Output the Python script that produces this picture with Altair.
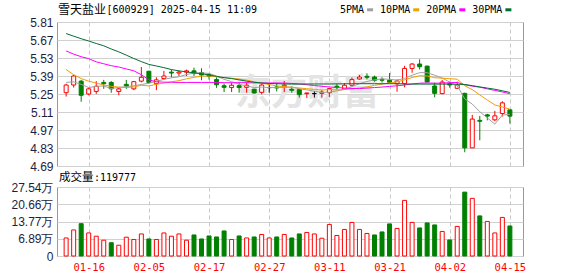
import json
import altair as alt
import pandas as pd

# ---------------- data ----------------
stock_name = "雪天盐业"
stock_info = "[600929] 2025-04-15 11:09"
vol_label_cn = "成交量"
vol_label_val = ":119777"
watermark = "东方财富"

date_ticks = [3, 11, 19, 27, 35, 43, 51, 59]
date_labels = ["01-16", "02-05", "02-17", "02-27", "03-11", "03-21", "04-02", "04-15"]

price_ticks = [4.69, 4.83, 4.97, 5.11, 5.25, 5.39, 5.53, 5.67, 5.81]
vol_ticks = [0, 6.885, 13.77, 20.655, 27.54]
vol_tick_labels = ["0", "6.89万", "13.77万", "20.66万", "27.54万"]

opens = [5.26, 5.32, 5.35, 5.25, 5.27, 5.34, 5.34, 5.27, 5.325, 5.29,
         5.35, 5.427, 5.33, 5.37, 5.42, 5.413, 5.42, 5.43, 5.416, 5.401,
         5.362, 5.314, 5.30, 5.315, 5.302, 5.287, 5.263, 5.30, 5.305, 5.305,
         5.287, 5.284, 5.253, 5.253, 5.255, 5.26, 5.31, 5.289, 5.318, 5.367,
         5.388, 5.382, 5.364, 5.357, 5.33, 5.33, 5.449, 5.483, 5.467, 5.312,
         5.253, 5.33, 5.294, 5.255, 4.831, 5.045, 5.088, 5.049, 5.098, 5.127]
highs = [5.33, 5.40, 5.36, 5.30, 5.35, 5.36, 5.35, 5.30, 5.36, 5.352,
         5.46, 5.43, 5.38, 5.43, 5.44, 5.43, 5.44, 5.455, 5.45, 5.413,
         5.38, 5.333, 5.339, 5.341, 5.341, 5.29, 5.333, 5.331, 5.336, 5.351,
         5.31, 5.292, 5.26, 5.273, 5.28, 5.297, 5.328, 5.336, 5.378, 5.398,
         5.411, 5.393, 5.38, 5.413, 5.364, 5.469, 5.49, 5.52, 5.47, 5.338,
         5.359, 5.346, 5.346, 5.26, 5.088, 5.08, 5.096, 5.119, 5.194, 5.13]
lows = [5.23, 5.30, 5.19, 5.24, 5.25, 5.29, 5.26, 5.24, 5.29, 5.28,
        5.34, 5.33, 5.28, 5.36, 5.38, 5.39, 5.39, 5.39, 5.357, 5.362,
        5.298, 5.265, 5.265, 5.26, 5.26, 5.253, 5.248, 5.26, 5.27, 5.265,
        5.26, 5.222, 5.219, 5.222, 5.222, 5.227, 5.284, 5.284, 5.31, 5.362,
        5.364, 5.346, 5.339, 5.333, 5.268, 5.302, 5.415, 5.441, 5.343, 5.224,
        5.248, 5.299, 5.289, 4.797, 4.83, 4.89, 5.045, 5.038, 5.075, 5.02]
closes = [5.32, 5.39, 5.24, 5.29, 5.31, 5.33, 5.29, 5.29, 5.312, 5.346,
          5.38, 5.34, 5.36, 5.39, 5.413, 5.421, 5.43, 5.41, 5.398, 5.388,
          5.322, 5.302, 5.318, 5.30, 5.318, 5.258, 5.32, 5.30, 5.297, 5.318,
          5.279, 5.245, 5.258, 5.253, 5.265, 5.292, 5.302, 5.318, 5.362, 5.382,
          5.38, 5.357, 5.357, 5.341, 5.351, 5.449, 5.483, 5.462, 5.343, 5.255,
          5.343, 5.32, 5.32, 4.831, 5.055, 5.038, 5.078, 5.08, 5.181, 5.078]

# volume in 万
volumes = [7.2, 10.4, 12.9, 9.2, 7.9, 6.3, 5.3, 4.3, 7.5, 6.6,
           8.8, 6.8, 6.6, 9.2, 7.9, 8.8, 6.3, 8.4, 6.8, 8.0,
           7.6, 10.0, 6.6, 8.0, 7.2, 7.6, 8.6, 7.2, 7.6, 8.6,
           7.2, 8.8, 9.4, 8.8, 7.1, 12.6, 8.2, 10.6, 13.4, 10.6,
           9.0, 8.4, 9.6, 12.8, 11.0, 22.2, 13.4, 11.2, 13.2, 12.4,
           9.8, 6.4, 11.8, 25.5, 23.0, 16.0, 13.8, 9.2, 15.4, 11.98]
vol_dirs = list("rrgrrrgrrr" "rgrrrrrggg" "ggrgrgrrgr" "ggrrrrrrrr" "rgggrrrggg" "rgrgrgrrrg")

ma5 = [5.34, 5.345, 5.325, 5.30, 5.310, 5.312, 5.292, 5.302, 5.306, 5.314,
       5.324, 5.334, 5.348, 5.364, 5.376, 5.384, 5.402, 5.412, 5.414, 5.410,
       5.390, 5.364, 5.346, 5.326, 5.312, 5.300, 5.304, 5.300, 5.300, 5.300,
       5.304, 5.290, 5.282, 5.272, 5.262, 5.264, 5.274, 5.286, 5.308, 5.330,
       5.348, 5.360, 5.368, 5.364, 5.358, 5.372, 5.396, 5.416, 5.416, 5.396,
       5.374, 5.342, 5.314, 5.212, 5.172, 5.112, 5.064, 5.016, 5.086, 5.092]
ma10 = [5.44, 5.40, 5.37, 5.35, 5.335, 5.32, 5.31, 5.303, 5.30, 5.305,
        5.318, 5.313, 5.325, 5.335, 5.345, 5.354, 5.368, 5.380, 5.389, 5.390,
        5.384, 5.378, 5.373, 5.366, 5.358, 5.345, 5.334, 5.323, 5.313, 5.306,
        5.302, 5.297, 5.291, 5.286, 5.281, 5.284, 5.282, 5.284, 5.290, 5.296,
        5.306, 5.317, 5.327, 5.336, 5.344, 5.360, 5.378, 5.392, 5.390, 5.377,
        5.373, 5.369, 5.365, 5.314, 5.284, 5.243, 5.203, 5.165, 5.149, 5.132]
ma20 = [5.585, 5.56, 5.54, 5.525, 5.50, 5.485, 5.47, 5.46, 5.445, 5.43,
        5.40, 5.36, 5.345, 5.342, 5.341, 5.34, 5.34, 5.34, 5.34, 5.34,
        5.34, 5.338, 5.338, 5.338, 5.338, 5.336, 5.336, 5.336, 5.336, 5.335,
        5.332, 5.328, 5.322, 5.316, 5.31, 5.305, 5.30, 5.296, 5.293, 5.292,
        5.296, 5.30, 5.304, 5.309, 5.314, 5.32, 5.328, 5.334, 5.336, 5.334,
        5.335, 5.338, 5.34, 5.322, 5.311, 5.303, 5.29, 5.278, 5.266, 5.252]
ma30 = [5.72, 5.70, 5.68, 5.662, 5.643, 5.625, 5.60, 5.578, 5.552, 5.526,
        5.502, 5.48, 5.468, 5.455, 5.44, 5.43, 5.422, 5.414, 5.408, 5.398,
        5.387, 5.377, 5.37, 5.36, 5.35, 5.341, 5.336, 5.332, 5.33, 5.328,
        5.327, 5.327, 5.328, 5.328, 5.328, 5.328, 5.329, 5.329, 5.33, 5.33,
        5.33, 5.33, 5.33, 5.33, 5.33, 5.328, 5.327, 5.327, 5.327, 5.327,
        5.327, 5.327, 5.326, 5.324, 5.315, 5.305, 5.296, 5.287, 5.275, 5.262]

ma_names = ["5PMA", "10PMA", "20PMA", "30PMA"]

# ---------------- styling ----------------
RED = "#ff0000"
GREEN = "#008000"
BLACK = "#000000"
MA_COLORS = ["#a0a0a0", "#f0a000", "#ff00ff", "#006e33"]
GRID = "#d0d0d0"
LABEL_COLOR = "#1e1e3c"
SANS = "Liberation Sans"
MONO = "DejaVu Sans Mono"
CJK = "Noto Sans CJK SC"

PW = 466
PH = 144
VH = 69

n = len(closes)
df = pd.DataFrame({
    "i": list(range(n)),
    "open": opens, "high": highs, "low": lows, "close": closes,
    "vol": volumes, "vdir": vol_dirs,
    "ma5": ma5, "ma10": ma10, "ma20": ma20, "ma30": ma30,
})
df["dir"] = ["up" if c > o else ("down" if c < o else "flat") for o, c in zip(opens, closes)]

x_scale = alt.Scale(domain=[-0.55, 60.08], nice=False, zero=False)
p_scale = alt.Scale(domain=[price_ticks[0], price_ticks[-1]], nice=False, zero=False)
v_scale = alt.Scale(domain=[vol_ticks[0], vol_ticks[-1]], nice=False, zero=True)

dir_stroke = alt.Scale(domain=["up", "down", "flat"], range=[RED, GREEN, BLACK])
dir_fill = alt.Scale(domain=["up", "down", "flat"], range=["white", GREEN, BLACK])
vdir_stroke = alt.Scale(domain=["r", "g"], range=[RED, GREEN])
vdir_fill = alt.Scale(domain=["r", "g"], range=["white", GREEN])

price_x_axis = alt.Axis(values=date_ticks, labels=False, ticks=False, domain=False,
                        grid=True, gridDash=[4, 3], gridColor="#c8c8c8", title=None)
price_y_axis = alt.Axis(values=price_ticks, format=".2f", ticks=False, domain=False,
                        grid=True, gridColor=GRID, labelPadding=4, labelFont=SANS,
                        labelFontSize=12, labelColor=LABEL_COLOR, labelFlush=False,
                        labelOverlap=False, labelBound=False, labelSeparation=0,
                        tickCount=len(price_ticks), title=None)

date_expr = f"{json.dumps(date_labels)}[indexof({json.dumps(date_ticks)}, datum.value)]"
vol_expr = f"{json.dumps(vol_tick_labels, ensure_ascii=False)}[indexof({json.dumps(vol_ticks)}, datum.value)]"

vol_x_axis = alt.Axis(values=date_ticks, labelExpr=date_expr, ticks=False, domain=False,
                      grid=True, gridDash=[4, 3], gridColor="#c8c8c8", title=None,
                      labelColor=RED, labelFont=MONO, labelFontSize=10.5, labelPadding=6,
                      labelFlush=False, labelOverlap=False)
vol_y_axis = alt.Axis(values=vol_ticks, labelExpr=vol_expr, ticks=False, domain=False,
                      grid=True, gridColor=GRID, labelPadding=4, labelFont=SANS,
                      labelFontSize=12, labelColor=LABEL_COLOR, labelFlush=False,
                      labelOverlap=False, title=None)

one = pd.DataFrame({"k": [0]})

# ---------------- price panel ----------------
anchor = alt.Chart(one).mark_rect(fill="white").encode(
    x=alt.value(-56), x2=alt.value(-55), y=alt.value(-21), y2=alt.value(-20))

wm = alt.Chart(one).mark_text(font=CJK, fontSize=36, fontWeight="bold", color="#e4e4e4",
                              align="center", baseline="middle").encode(
    x=alt.value(250), y=alt.value(72), text=alt.value(watermark))

base = alt.Chart(df)


def px(field):
    return alt.X(f"{field}:Q", scale=x_scale, axis=price_x_axis)


def py(field):
    return alt.Y(f"{field}:Q", scale=p_scale, axis=price_y_axis)


wicks = base.mark_rule(strokeWidth=1).encode(
    x=px("i"), y=py("low"), y2="high:Q",
    stroke=alt.Stroke("dir:N", scale=dir_stroke, legend=None),
)
bodies = base.mark_bar(size=4, strokeWidth=1).encode(
    x=px("i"), y=py("open"), y2="close:Q",
    fill=alt.Fill("dir:N", scale=dir_fill, legend=None),
    stroke=alt.Stroke("dir:N", scale=dir_stroke, legend=None),
)
ma_layers = []
for col, color in zip(["ma5", "ma10", "ma20", "ma30"], MA_COLORS):
    ma_layers.append(base.mark_line(strokeWidth=1, color=color).encode(x=px("i"), y=py(col)))

title_layers = [
    alt.Chart(one).mark_text(font=CJK, fontSize=12, align="left", baseline="middle",
                             color="#000000").encode(
        x=alt.value(1), y=alt.value(-11.7), text=alt.value(stock_name)),
    alt.Chart(one).mark_text(font=MONO, fontSize=10, align="left", baseline="middle",
                             color="#000000").encode(
        x=alt.value(49.5), y=alt.value(-11.7), text=alt.value(stock_info)),
]

legend_layers = []
lx = 283.0
for name, color in zip(ma_names, MA_COLORS):
    legend_layers.append(alt.Chart(one).mark_text(font=MONO, fontSize=10, align="left",
                                                  baseline="middle", color="#000000").encode(
        x=alt.value(lx), y=alt.value(-12.3), text=alt.value(name)))
    sx = lx + len(name) * 6.02 + 3
    legend_layers.append(alt.Chart(one).mark_rect(fill=color).encode(
        x=alt.value(sx), x2=alt.value(sx + 6), y=alt.value(-13.7), y2=alt.value(-10.7)))
    lx = sx + 6 + 7

price = alt.layer(anchor, wm, wicks, bodies, *ma_layers, *title_layers, *legend_layers).properties(
    width=PW, height=PH)

# ---------------- volume panel ----------------
vbars = base.mark_bar(size=4, strokeWidth=1).encode(
    x=alt.X("i:Q", scale=x_scale, axis=vol_x_axis),
    y=alt.Y("vol:Q", scale=v_scale, axis=vol_y_axis),
    fill=alt.Fill("vdir:N", scale=vdir_fill, legend=None),
    stroke=alt.Stroke("vdir:N", scale=vdir_stroke, legend=None),
)
vtext = [
    alt.Chart(one).mark_text(font=CJK, fontSize=11.5, align="left", baseline="middle",
                             color="#000000").encode(
        x=alt.value(2), y=alt.value(-8.7), text=alt.value(vol_label_cn)),
    alt.Chart(one).mark_text(font=MONO, fontSize=10, align="left", baseline="middle",
                             color="#000000").encode(
        x=alt.value(37), y=alt.value(-8.7), text=alt.value(vol_label_val)),
]
volume = alt.layer(vbars, *vtext).properties(width=PW, height=VH)

chart = alt.vconcat(price, volume, spacing=21, bounds="flush").properties(
    padding=0
).configure_view(stroke="#999999", strokeWidth=1)

chart.save("out.html", embed_options={"renderer": "svg", "actions": False})
